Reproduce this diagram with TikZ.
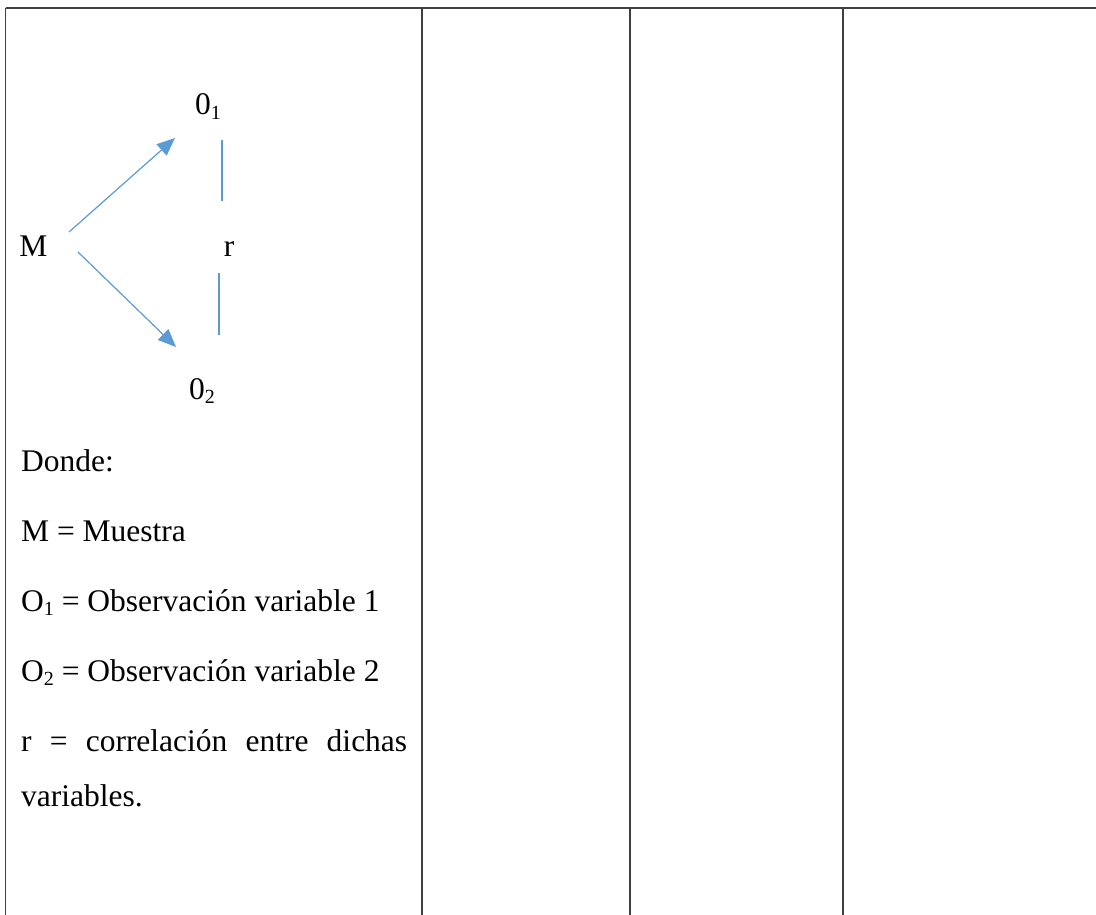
\documentclass[tikz,border=0pt]{standalone}
\usepackage{fontspec}
\setmainfont{Liberation Serif}
\usetikzlibrary{arrows.meta}
\definecolor{myblue}{HTML}{5B9BD5}
\newcommand\mysub[1]{\raisebox{-0.15em}{\fontsize{20pt}{20pt}\selectfont #1}}
\begin{document}
\begin{tikzpicture}[x=1pt,y=-1pt,
 txt/.style={anchor=base west,inner sep=0pt,font=\fontsize{31.5pt}{38pt}\selectfont},
 lbl/.style={anchor=base,inner sep=0pt,font=\fontsize{31.5pt}{38pt}\selectfont},
 tablerule/.style={line width=1.8pt,draw=black!75},
 arr/.style={draw=myblue,line width=1.2pt,-{Triangle[length=18pt,width=15pt]}},
 rline/.style={draw=myblue,line width=1.2pt}]
\useasboundingbox (0,0) rectangle (1096,915);
% table
\draw[tablerule] (5.5,7.7) -- (1096,7.7);
\draw[tablerule] (5.5,7.7) -- (5.5,915);
\draw[tablerule] (422,7.7) -- (422,915);
\draw[tablerule] (630,7.7) -- (630,915);
\draw[tablerule] (843,7.7) -- (843,915);
% diagram labels
\node[lbl] (O1) at (208,115) {0\mysub{1}};
\node[lbl] (M) at (33.5,256) {M};
\node[lbl] (r) at (229,256) {r};
\node[lbl] (O2) at (202,399) {0\mysub{2}};
% connector ends
\coordinate (a1s) at (69,232);
\coordinate (a1e) at (175,138);
\coordinate (a2s) at (78,252);
\coordinate (a2e) at (176,347);
\coordinate (l1s) at (222,140);
\coordinate (l1e) at (222,201);
\coordinate (l2s) at (219,273);
\coordinate (l2e) at (219,335);
\draw[arr] (a1s) -- (a1e);
\draw[arr] (a2s) -- (a2e);
\draw[rline] (l1s) -- (l1e);
\draw[rline] (l2s) -- (l2e);
% legend
\node[txt] (donde) at (21,471) {Donde:};
\node[txt] (lm) at (21,541) {M = Muestra};
\node[txt] (lo1) at (21,611) {O\mysub{1} = Observación variable 1};
\node[txt] (lo2) at (21,681) {O\mysub{2} = Observación variable 2};
\node[txt] (lr) at (21,751) {\makebox[386pt][s]{r = correlación entre dichas}};
\node[txt] (lv) at (21,806) {variables.};
\end{tikzpicture}
\end{document}
